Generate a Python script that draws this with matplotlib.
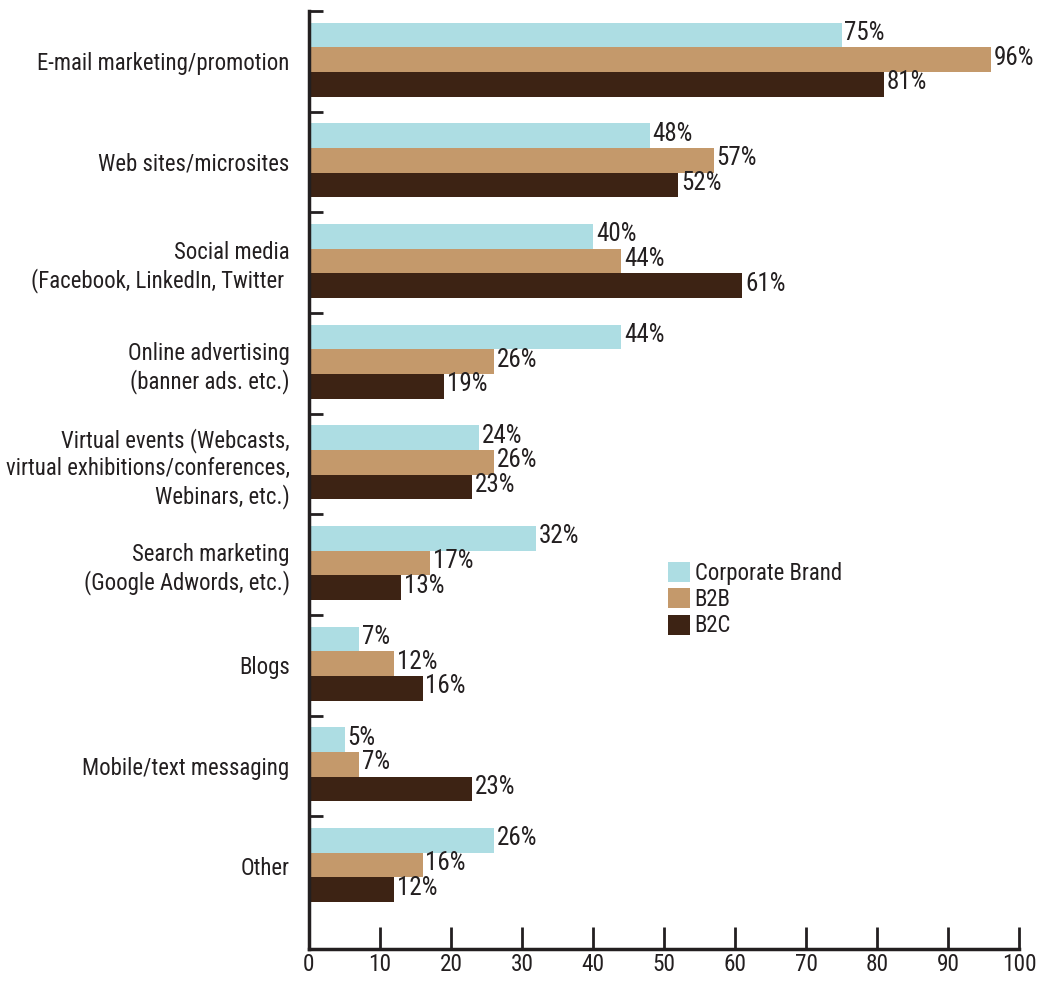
import matplotlib
matplotlib.use("Agg")
import matplotlib.pyplot as plt
import matplotlib.font_manager as fm
import numpy as np

categories = [
    "E-mail marketing/promotion",
    "Web sites/microsites",
    "Social media\n(Facebook, LinkedIn, Twitter ",
    "Online advertising\n(banner ads. etc.)",
    "Virtual events (Webcasts,\nvirtual exhibitions/conferences,\nWebinars, etc.)",
    "Search marketing\n(Google Adwords, etc.)",
    "Blogs",
    "Mobile/text messaging",
    "Other",
]
series_names = ["Corporate Brand", "B2B", "B2C"]
corporate = [75, 48, 40, 44, 24, 32, 7, 5, 26]
b2b = [96, 57, 44, 26, 26, 17, 12, 7, 16]
b2c = [81, 52, 61, 19, 23, 13, 16, 23, 12]
x_ticks = [0, 10, 20, 30, 40, 50, 60, 70, 80, 90, 100]

colors = ["#ADDDE3", "#C4996B", "#3D2314"]
text_color = "#231F20"

# pick a condensed sans font if one is installed
def pick_condensed():
    cands = []
    for f in fm.fontManager.ttflist:
        nm = f.name
        is_cond = ('ondensed' in nm) or ('Narrow' in nm) or (str(f.stretch) in ('condensed', 'semi-condensed', 'extra-condensed'))
        if not is_cond or f.style != 'normal':
            continue
        if f.weight not in (400, 'normal', 'regular', 'book'):
            continue
        cands.append(f)
    pref = ['Roboto Condensed', 'Liberation Sans Narrow', 'Noto Sans', 'Noto Sans Condensed',
            'Open Sans Condensed', 'Open Sans', 'DejaVu Sans Condensed', 'DejaVu Sans']
    for p in pref:
        for f in cands:
            if f.name == p:
                return f
    return cands[0] if cands else None

chosen = pick_condensed()
if chosen is not None:
    plt.rcParams['font.family'] = [chosen.name, 'DejaVu Sans']
    plt.rcParams['font.stretch'] = chosen.stretch
else:
    plt.rcParams['font.family'] = ['Roboto', 'DejaVu Sans']

cat_fs = 16.4
num_fs = 18.0
tick_fs = 16.8

fig = plt.figure(figsize=(10.41, 9.81), dpi=100)
ax = fig.add_axes([309/1041, 1 - 949/981, (1019 - 309)/1041, (949 - 11)/981])

y = np.arange(len(categories))
h = 0.245
offsets = [-h, 0, h]
for vals, off, col, name in zip([corporate, b2b, b2c], offsets, colors, series_names):
    pos = y + off - 0.015
    ax.barh(pos, vals, height=h, color=col, label=name, linewidth=0)
    for p, v in zip(pos, vals):
        ax.text(v + 0.4, p - 0.02, f"{v}%", va="center", ha="left", fontsize=num_fs, color=text_color)

ax.set_xlim(0, 100)
ax.set_ylim(8.82, -0.5)

ax.set_xticks(x_ticks)
ax.set_xticklabels([str(t) for t in x_ticks])
ax.tick_params(axis='x', direction='in', length=16, width=2, color=text_color,
               labelsize=tick_fs, labelcolor=text_color, pad=3)

ax.set_yticks(np.arange(-0.5, len(categories) - 1, 1.0))
ax.set_yticklabels([])
ax.tick_params(axis='y', which='major', direction='in', length=10, width=2, color=text_color)
ax.set_yticks(y, minor=True)
ax.set_yticklabels(categories, minor=True, multialignment='right')
ax.tick_params(axis='y', which='minor', length=0, pad=14, labelsize=cat_fs, labelcolor=text_color)

for s in ['top', 'right']:
    ax.spines[s].set_visible(False)
for s in ['left', 'bottom']:
    ax.spines[s].set_linewidth(2.5)
    ax.spines[s].set_color(text_color)

leg = ax.legend(loc='upper left', bbox_to_anchor=(668/1041, 1 - 562/981),
                bbox_transform=fig.transFigure, frameon=False, fontsize=cat_fs,
                handlelength=0.97, handleheight=0.97, handletextpad=0.2,
                labelspacing=0.14, borderpad=0, borderaxespad=0)
for t in leg.get_texts():
    t.set_color(text_color)

fig.savefig("out.png", dpi=100)
